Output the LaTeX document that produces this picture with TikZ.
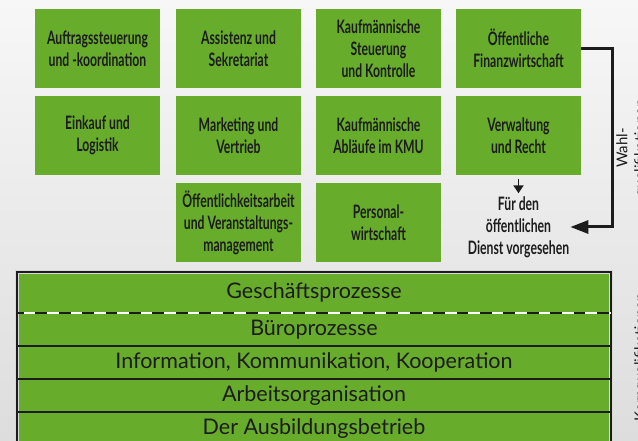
\documentclass[tikz,border=0pt]{standalone}
\usepackage{fontspec}
\setmainfont{Lato}
\newfontfamily\feldfont[FakeStretch=0.66]{Lato}
\usepackage{tikz}
\usetikzlibrary{%
  arrows.meta,%
  positioning,% wg. " of "
  calc,%
}
\definecolor{gruen}{RGB}{104,172,44}
\definecolor{schrift}{RGB}{28,28,28}
\definecolor{hgoben}{RGB}{247,247,247}
\definecolor{hgunten}{RGB}{221,221,221}
\tikzset{%
  feld/.style={fill=gruen, text=schrift, minimum width=125pt, minimum height=79pt,
    align=center, inner sep=2pt, font=\feldfont\bfseries\fontsize{18.5}{22}\selectfont},
  hinweis/.style={text=schrift, align=center, inner sep=1pt,
    font=\feldfont\bfseries\fontsize{18.5}{22}\selectfont},
  schicht/.style={fill=gruen, text=schrift, minimum width=594pt, inner sep=0pt,
    outer sep=0pt, font=\fontsize{21.5}{24}\selectfont},
  linie/.style={draw=schrift, line width=2.5pt},
  seite/.style={rotate=90, align=center, text=schrift, inner sep=0pt,
    font=\fontsize{15}{18}\selectfont},
}

\begin{document}
\begin{tikzpicture}[x=1pt,y=-1pt]
        \path[use as bounding box] (0,0) rectangle (638,441);
        \clip (0,0) rectangle (638,441);
        \shade[top color=hgoben, bottom color=hgunten] (0,0) rectangle (638,441);

        \node[feld] (auftrag) at (97.5,48.5) {Auftragssteuerung\\und -koordination};
        \node[feld] (assistenz) at (238.5,48.5) {Assistenz und\\Sekretariat};
        \node[feld] (steuerung) at (378.5,48.5) {Kaufmännische\\Steuerung\\und Kontrolle};
        \node[feld] (finanz) at (518.5,48.5) {Öffentliche\\Finanzwirtschaft};
        \node[feld] (einkauf) at (97.5,135.5) {Einkauf und\\Logistik};
        \node[feld] (marketing) at (238.5,135.5) {Marketing und\\Vertrieb};
        \node[feld] (kmu) at (378.5,135.5) {Kaufmännische\\Abläufe im KMU};
        \node[feld] (verwaltung) at (518.5,135.5) {Verwaltung\\und Recht};
        \node[feld] (oeffentlich) at (238.5,222.5) {Öffentlichkeitsarbeit\\und Veranstaltungs-\\management};
        \node[feld] (personal) at (378.5,222.5) {Personal-\\wirtschaft};
        \node[hinweis] (dienst) at (518.5,227) {Für den\\öffentlichen\\Dienst vorgesehen};

        \coordinate (knick) at (612,0);
        \draw[draw=schrift, line width=3pt, -{Triangle[length=18pt,width=13pt]}]
          (finanz.east) -- (finanz.east -| knick) |- (dienst.east);
        \draw[draw=schrift, line width=1.8pt, -{Triangle[length=8pt,width=10pt]}]
          ([yshift=-4pt]verwaltung.south) -- ([yshift=2pt]dienst.north);

        \node[seite, anchor=north] (wahl) at (616,148) {Wahl-\\qualifikationen};
        \node[seite, anchor=north] (kern) at (634,357) {Kernqualifikationen};

        \node[schicht, minimum height=41pt] (gp) at (314,292.5) {Geschäftsprozesse};
        \node[schicht, minimum height=33pt, below=0pt of gp] (buero) {Büroprozesse};
        \node[schicht, minimum height=33pt, below=0pt of buero] (ikk) {Information, Kommunikation, Kooperation};
        \node[schicht, minimum height=33pt, below=0pt of ikk] (ao) {Arbeitsorganisation};
        \node[schicht, minimum height=33pt, below=0pt of ao] (ab) {Der Ausbildungsbetrieb};

        \draw[gray!30, line width=4.5pt] (gp.north west) rectangle (ab.south east);
        \draw[linie] (gp.north west) rectangle (ab.south east);
        \draw[white, line width=2.5pt] (buero.north west) -- (buero.north east);
        \draw[linie, dash pattern=on 11.7pt off 11.7pt, dash phase=5pt] (buero.north west) -- (buero.north east);
        \foreach \n in {ikk,ao,ab}
          \draw[linie] (\n.north west) -- (\n.north east);
\end{tikzpicture}
\end{document}
